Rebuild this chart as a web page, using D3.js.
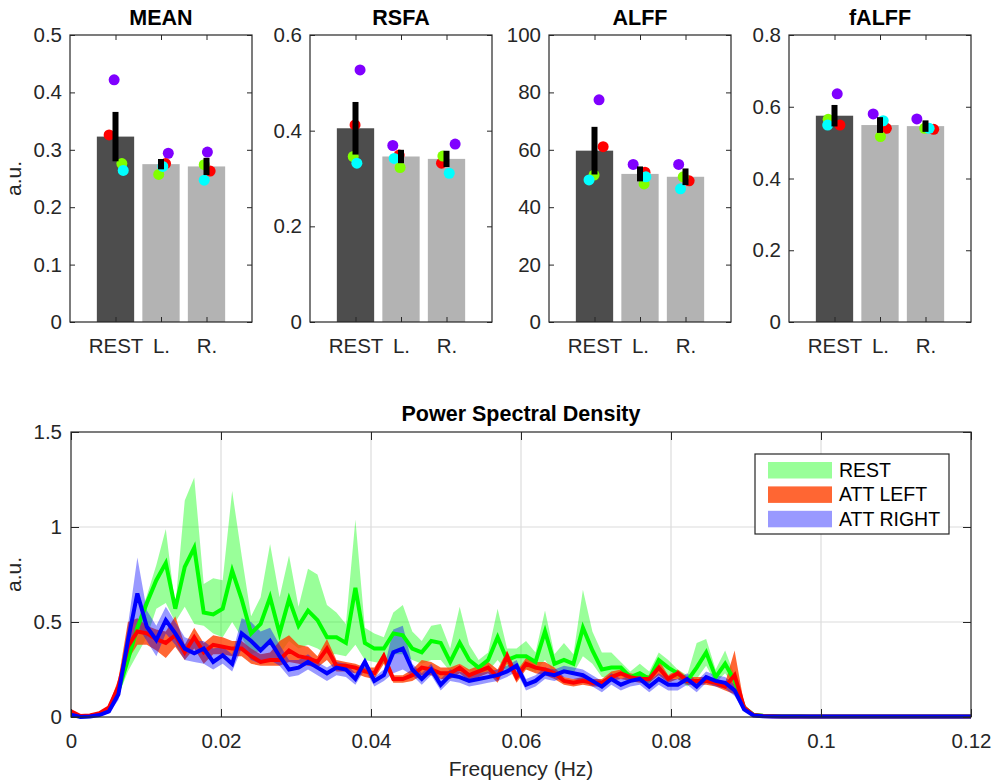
<!DOCTYPE html>
<html>
<head>
<meta charset="utf-8">
<script src="https://cdn.jsdelivr.net/npm/d3@7"></script>
<style>
body { margin: 0; background: #fff; }
text { font-family: Arial, "Liberation Sans", Helvetica, sans-serif; }
</style>
</head>
<body>
<svg width="1000" height="784"></svg>
<script>
// ---- bar panels data ----
var metrics = ["MEAN", "RSFA", "ALFF", "fALFF"];
var conditions = ["REST", "L.", "R."];

var meanBar = [0.323, 0.275, 0.271];
var rsfaBar = [0.405, 0.346, 0.341];
var alffBar = [59.7, 51.6, 50.6];
var falffBar = [0.575, 0.549, 0.546];

var meanSem = [0.043, 0.009, 0.015];
var rsfaSem = [0.055, 0.014, 0.017];
var alffSem = [8.3, 2.6, 2.9];
var falffSem = [0.03, 0.022, 0.016];

// subjects: purple, red, green, cyan
var subjectColors = ["#8000ff", "#ff0000", "#80ff00", "#00ffff"];
var meanDots = [[0.422, 0.326, 0.276, 0.264], [0.294, 0.276, 0.257, 0.271], [0.296, 0.263, 0.274, 0.247]];
var rsfaDots = [[0.527, 0.412, 0.346, 0.332], [0.369, 0.349, 0.323, 0.342], [0.372, 0.332, 0.347, 0.311]];
var alffDots = [[77.4, 61.1, 51.2, 49.5], [54.9, 52.2, 48.1, 50.6], [54.9, 49.2, 50.6, 46.4]];
var falffDots = [[0.636, 0.549, 0.565, 0.549], [0.58, 0.54, 0.517, 0.561], [0.566, 0.537, 0.54, 0.54]];

// horizontal jitter of the dots, in category units
var meanJitter = [[-0.03, -0.14, 0.14, 0.17], [0.16, 0.10, -0.05, 0.04], [0.02, 0.08, -0.05, -0.05]];
var rsfaJitter = [[0.10, -0.01, -0.05, 0.03], [-0.18, -0.04, -0.02, -0.15], [0.19, -0.11, -0.08, 0.06]];
var alffJitter = [[0.10, 0.19, -0.01, -0.12], [-0.15, 0.11, 0.09, 0.13], [-0.15, 0.08, -0.05, -0.11]];
var falffJitter = [[0.06, 0.12, -0.14, -0.15], [-0.15, 0.14, 0.01, 0.07], [-0.19, 0.18, -0.02, 0.08]];

var meanTicks = [0, 0.1, 0.2, 0.3, 0.4, 0.5];
var rsfaTicks = [0, 0.2, 0.4, 0.6];
var alffTicks = [0, 20, 40, 60, 80, 100];
var falffTicks = [0, 0.2, 0.4, 0.6, 0.8];

// ---- power spectral density data ----
var freqStep = 0.001264;
var psdTicks = [0, 0.02, 0.04, 0.06, 0.08, 0.1, 0.12];
var psdYTicks = [0, 0.5, 1, 1.5];

var restMean = [0.015, 0.003, 0.005, 0.015, 0.04, 0.14, 0.30, 0.47, 0.60, 0.72, 0.81, 0.57,
    0.79, 0.89, 0.55, 0.54, 0.57, 0.77, 0.62, 0.44, 0.49, 0.63, 0.44, 0.62,
    0.48, 0.56, 0.51, 0.42, 0.42, 0.39, 0.68, 0.39, 0.36, 0.36, 0.44, 0.43,
    0.36, 0.34, 0.40, 0.39, 0.29, 0.39, 0.30, 0.26, 0.30, 0.42, 0.30, 0.32,
    0.32, 0.29, 0.45, 0.28, 0.30, 0.28, 0.47, 0.35, 0.25, 0.26, 0.26, 0.21,
    0.23, 0.20, 0.30, 0.26, 0.23, 0.19, 0.26, 0.34, 0.21, 0.28, 0.19, 0.05,
    0.012, 0.006, 0.005, 0.004, 0.004, 0.004, 0.003, 0.003, 0.003, 0.003, 0.003, 0.003,
    0.003, 0.003, 0.003, 0.003, 0.003, 0.003, 0.003, 0.003, 0.003, 0.003, 0.003, 0.003];
var restHi = [0.02, 0.006, 0.008, 0.02, 0.05, 0.17, 0.36, 0.50, 0.64, 0.80, 0.99, 0.58,
    1.14, 1.26, 0.70, 0.73, 0.72, 1.19, 0.85, 0.53, 0.63, 0.91, 0.63, 0.85,
    0.58, 0.78, 0.75, 0.59, 0.55, 0.49, 1.04, 0.47, 0.44, 0.42, 0.55, 0.59,
    0.45, 0.40, 0.48, 0.49, 0.36, 0.58, 0.38, 0.30, 0.34, 0.57, 0.36, 0.36,
    0.40, 0.34, 0.56, 0.33, 0.39, 0.33, 0.67, 0.45, 0.34, 0.34, 0.29, 0.24,
    0.28, 0.24, 0.34, 0.30, 0.25, 0.22, 0.39, 0.41, 0.25, 0.35, 0.22, 0.06,
    0.015, 0.008, 0.006, 0.005, 0.005, 0.005, 0.004, 0.004, 0.004, 0.004, 0.004, 0.004,
    0.004, 0.004, 0.004, 0.004, 0.004, 0.004, 0.004, 0.004, 0.004, 0.004, 0.004, 0.004];
var restLo = [0.01, 0.001, 0.003, 0.01, 0.03, 0.11, 0.24, 0.33, 0.42, 0.57, 0.60, 0.50,
    0.58, 0.49, 0.48, 0.44, 0.42, 0.50, 0.42, 0.33, 0.35, 0.38, 0.33, 0.40,
    0.36, 0.38, 0.36, 0.33, 0.33, 0.32, 0.38, 0.30, 0.29, 0.28, 0.33, 0.33,
    0.30, 0.28, 0.30, 0.30, 0.24, 0.28, 0.24, 0.23, 0.24, 0.30, 0.24, 0.25,
    0.25, 0.24, 0.30, 0.23, 0.24, 0.23, 0.32, 0.28, 0.21, 0.21, 0.22, 0.18,
    0.19, 0.17, 0.25, 0.22, 0.20, 0.16, 0.20, 0.27, 0.18, 0.23, 0.16, 0.04,
    0.01, 0.004, 0.003, 0.003, 0.003, 0.003, 0.002, 0.002, 0.002, 0.002, 0.002, 0.002,
    0.002, 0.002, 0.002, 0.002, 0.002, 0.002, 0.002, 0.002, 0.002, 0.002, 0.002, 0.002];

var leftMean = [0.03, 0.005, 0.008, 0.02, 0.05, 0.16, 0.37, 0.45, 0.44, 0.41, 0.39, 0.43,
    0.34, 0.42, 0.34, 0.38, 0.37, 0.36, 0.36, 0.32, 0.29, 0.30, 0.30, 0.35,
    0.32, 0.31, 0.29, 0.36, 0.27, 0.27, 0.26, 0.24, 0.23, 0.32, 0.20, 0.20,
    0.22, 0.26, 0.25, 0.23, 0.23, 0.26, 0.22, 0.24, 0.26, 0.21, 0.32, 0.21,
    0.28, 0.26, 0.25, 0.23, 0.19, 0.18, 0.19, 0.18, 0.18, 0.21, 0.23, 0.21,
    0.20, 0.20, 0.26, 0.20, 0.23, 0.19, 0.19, 0.19, 0.18, 0.16, 0.22, 0.05,
    0.01, 0.005, 0.004, 0.003, 0.003, 0.003, 0.003, 0.003, 0.003, 0.003, 0.003, 0.003,
    0.003, 0.003, 0.003, 0.003, 0.003, 0.003, 0.003, 0.003, 0.003, 0.003, 0.003, 0.003];
var leftHi = [0.035, 0.008, 0.01, 0.025, 0.06, 0.20, 0.50, 0.52, 0.48, 0.46, 0.45, 0.53,
    0.38, 0.47, 0.39, 0.43, 0.42, 0.40, 0.40, 0.36, 0.33, 0.34, 0.40, 0.43,
    0.38, 0.37, 0.32, 0.41, 0.30, 0.29, 0.28, 0.26, 0.26, 0.34, 0.22, 0.22,
    0.25, 0.30, 0.29, 0.26, 0.26, 0.28, 0.25, 0.27, 0.29, 0.25, 0.35, 0.24,
    0.31, 0.29, 0.29, 0.26, 0.21, 0.20, 0.21, 0.20, 0.20, 0.24, 0.25, 0.23,
    0.22, 0.22, 0.30, 0.22, 0.25, 0.21, 0.21, 0.21, 0.20, 0.18, 0.35, 0.07,
    0.012, 0.006, 0.005, 0.004, 0.004, 0.004, 0.004, 0.004, 0.004, 0.004, 0.004, 0.004,
    0.004, 0.004, 0.004, 0.004, 0.004, 0.004, 0.004, 0.004, 0.004, 0.004, 0.004, 0.004];
var leftLo = [0.025, 0.003, 0.006, 0.015, 0.04, 0.13, 0.30, 0.38, 0.38, 0.35, 0.31, 0.37,
    0.30, 0.36, 0.28, 0.33, 0.33, 0.32, 0.32, 0.28, 0.27, 0.27, 0.27, 0.29,
    0.28, 0.27, 0.26, 0.30, 0.24, 0.24, 0.23, 0.21, 0.20, 0.28, 0.18, 0.18,
    0.19, 0.22, 0.22, 0.20, 0.20, 0.23, 0.19, 0.21, 0.23, 0.18, 0.28, 0.18,
    0.25, 0.23, 0.22, 0.20, 0.17, 0.16, 0.17, 0.16, 0.16, 0.19, 0.20, 0.19,
    0.18, 0.18, 0.22, 0.18, 0.20, 0.17, 0.17, 0.17, 0.16, 0.14, 0.12, 0.035,
    0.008, 0.004, 0.003, 0.002, 0.002, 0.002, 0.002, 0.002, 0.002, 0.002, 0.002, 0.002,
    0.002, 0.002, 0.002, 0.002, 0.002, 0.002, 0.002, 0.002, 0.002, 0.002, 0.002, 0.002];

var rightMean = [0.012, 0.0, 0.003, 0.01, 0.03, 0.12, 0.40, 0.65, 0.475, 0.405, 0.51, 0.44,
    0.36, 0.335, 0.36, 0.29, 0.325, 0.28, 0.44, 0.40, 0.35, 0.40, 0.32, 0.25,
    0.26, 0.29, 0.26, 0.23, 0.26, 0.25, 0.20, 0.29, 0.19, 0.22, 0.34, 0.36,
    0.25, 0.20, 0.25, 0.17, 0.22, 0.21, 0.19, 0.20, 0.21, 0.22, 0.24, 0.27,
    0.17, 0.19, 0.23, 0.22, 0.24, 0.23, 0.22, 0.19, 0.16, 0.20, 0.17, 0.19,
    0.20, 0.16, 0.20, 0.17, 0.17, 0.20, 0.16, 0.21, 0.19, 0.18, 0.14, 0.04,
    0.008, 0.004, 0.003, 0.002, 0.002, 0.002, 0.002, 0.002, 0.002, 0.002, 0.002, 0.002,
    0.002, 0.002, 0.002, 0.002, 0.002, 0.002, 0.002, 0.002, 0.002, 0.002, 0.002, 0.002];
var rightHi = [0.018, 0.003, 0.006, 0.015, 0.04, 0.16, 0.48, 0.84, 0.56, 0.48, 0.58, 0.50,
    0.42, 0.40, 0.40, 0.36, 0.37, 0.33, 0.52, 0.50, 0.45, 0.47, 0.38, 0.30,
    0.30, 0.33, 0.29, 0.26, 0.29, 0.28, 0.23, 0.31, 0.21, 0.25, 0.46, 0.48,
    0.28, 0.23, 0.28, 0.20, 0.25, 0.24, 0.22, 0.23, 0.24, 0.25, 0.27, 0.30,
    0.20, 0.22, 0.26, 0.25, 0.27, 0.26, 0.25, 0.22, 0.19, 0.23, 0.20, 0.22,
    0.23, 0.19, 0.23, 0.20, 0.20, 0.23, 0.19, 0.24, 0.22, 0.21, 0.17, 0.05,
    0.01, 0.005, 0.004, 0.003, 0.003, 0.003, 0.003, 0.003, 0.003, 0.003, 0.003, 0.003,
    0.003, 0.003, 0.003, 0.003, 0.003, 0.003, 0.003, 0.003, 0.003, 0.003, 0.003, 0.003];
var rightLo = [0.006, 0.0, 0.001, 0.005, 0.02, 0.09, 0.32, 0.48, 0.40, 0.32, 0.44, 0.38,
    0.30, 0.29, 0.28, 0.25, 0.28, 0.24, 0.36, 0.30, 0.28, 0.30, 0.27, 0.21,
    0.22, 0.25, 0.22, 0.19, 0.22, 0.21, 0.17, 0.25, 0.16, 0.19, 0.23, 0.25,
    0.22, 0.17, 0.22, 0.14, 0.19, 0.18, 0.16, 0.17, 0.18, 0.19, 0.21, 0.24,
    0.14, 0.16, 0.20, 0.19, 0.21, 0.20, 0.19, 0.16, 0.13, 0.17, 0.14, 0.16,
    0.17, 0.13, 0.17, 0.14, 0.14, 0.17, 0.13, 0.18, 0.16, 0.15, 0.11, 0.03,
    0.006, 0.003, 0.002, 0.001, 0.001, 0.001, 0.001, 0.001, 0.001, 0.001, 0.001, 0.001,
    0.001, 0.001, 0.001, 0.001, 0.001, 0.001, 0.001, 0.001, 0.001, 0.001, 0.001, 0.001];

var legendLabels = ["REST", "ATT LEFT", "ATT RIGHT"];

// ---- drawing ----
var svg = d3.select("svg");
var ink = "#262626";
var fontFamily = "Arial, 'Liberation Sans', Helvetica, sans-serif";
var tickFont = 20.5;

var barVals = [meanBar, rsfaBar, alffBar, falffBar];
var semVals = [meanSem, rsfaSem, alffSem, falffSem];
var dotVals = [meanDots, rsfaDots, alffDots, falffDots];
var jitterVals = [meanJitter, rsfaJitter, alffJitter, falffJitter];
var tickVals = [meanTicks, rsfaTicks, alffTicks, falffTicks];

var panelLeft = [70, 310, 549, 789];
var panelW = 182, panelTop = 35, panelBottom = 322;

function styleAxis(sel, size) {
    sel.attr("color", ink)
        .attr("font-size", size)
        .attr("font-family", fontFamily);
    sel.select(".domain").remove();
}

metrics.forEach(function(name, k) {
    var left = panelLeft[k];
    var ticks = tickVals[k];
    var x = d3.scaleLinear().domain([0, 4]).range([left, left + panelW]);
    var y = d3.scaleLinear().domain([0, ticks[ticks.length - 1]]).range([panelBottom, panelTop]);
    var g = svg.append("g");

    g.selectAll(".bar")
        .data(barVals[k])
        .enter().append("rect")
        .attr("class", "bar")
        .attr("x", function(d, i) { return x(i + 1 - 0.41); })
        .attr("width", x(0.82) - x(0))
        .attr("y", function(d) { return y(d); })
        .attr("height", function(d) { return y(0) - y(d); })
        .attr("fill", function(d, i) { return i === 0 ? "#4d4d4d" : "#b3b3b3"; });

    // subject dots
    dotVals[k].forEach(function(vals, i) {
        g.selectAll(null)
            .data(vals)
            .enter().append("circle")
            .attr("cx", function(d, j) { return x(i + 1 + jitterVals[k][i][j]); })
            .attr("cy", function(d) { return y(d); })
            .attr("r", 5.5)
            .attr("fill", function(d, j) { return subjectColors[j]; });
    });

    // error bars
    g.selectAll(".err")
        .data(barVals[k])
        .enter().append("line")
        .attr("class", "err")
        .attr("x1", function(d, i) { return x(i + 1); })
        .attr("x2", function(d, i) { return x(i + 1); })
        .attr("y1", function(d, i) { return y(d - semVals[k][i]); })
        .attr("y2", function(d, i) { return y(d + semVals[k][i]); })
        .attr("stroke", "#000")
        .attr("stroke-width", 6);

    var fmt = d3.format("~g");
    g.append("g")
        .attr("transform", "translate(0," + panelBottom + ")")
        .call(d3.axisBottom(x).tickValues([1, 2, 3])
            .tickFormat(function(d) { return conditions[d - 1]; })
            .tickSizeInner(-5).tickSizeOuter(0).tickPadding(16))
        .call(styleAxis, tickFont);
    g.append("g")
        .attr("transform", "translate(0," + panelTop + ")")
        .call(d3.axisTop(x).tickValues([1, 2, 3]).tickFormat("").tickSizeInner(-5).tickSizeOuter(0))
        .call(styleAxis, tickFont);
    g.append("g")
        .attr("transform", "translate(" + left + ",0)")
        .call(d3.axisLeft(y).tickValues(ticks).tickFormat(fmt).tickSizeInner(-5).tickSizeOuter(0).tickPadding(8))
        .call(styleAxis, tickFont);
    g.append("g")
        .attr("transform", "translate(" + (left + panelW) + ",0)")
        .call(d3.axisRight(y).tickValues(ticks).tickFormat("").tickSizeInner(-5).tickSizeOuter(0))
        .call(styleAxis, tickFont);

    g.append("rect")
        .attr("x", left).attr("y", panelTop)
        .attr("width", panelW).attr("height", panelBottom - panelTop)
        .attr("fill", "none").attr("stroke", ink).attr("stroke-width", 1.2);

    g.append("text")
        .attr("x", left + panelW / 2).attr("y", 25)
        .attr("text-anchor", "middle")
        .attr("font-size", 21.5).attr("font-weight", "bold")
        .attr("fill", "#000")
        .text(name);
});

svg.append("text")
    .attr("transform", "translate(21," + (panelTop + panelBottom) / 2 + ") rotate(-90)")
    .attr("text-anchor", "middle")
    .attr("font-size", 21).attr("fill", ink)
    .text("a.u.");

// ---- PSD panel ----
var pLeft = 71, pRight = 971, pTop = 432, pBottom = 717;
var fx = d3.scaleLinear().domain([0, 0.12]).range([pLeft, pRight]);
var fy = d3.scaleLinear().domain([0, 1.5]).range([pBottom, pTop]);
var freqs = restMean.map(function(d, i) { return i * freqStep; });

var p = svg.append("g");

p.append("clipPath").attr("id", "psdClip")
    .append("rect")
    .attr("x", pLeft).attr("y", pTop - 5)
    .attr("width", pRight - pLeft).attr("height", pBottom - pTop + 10);

// grid
p.selectAll(".vgrid")
    .data(psdTicks.slice(1, -1))
    .enter().append("line")
    .attr("x1", function(d) { return fx(d); }).attr("x2", function(d) { return fx(d); })
    .attr("y1", pTop).attr("y2", pBottom)
    .attr("stroke", "#dcdcdc").attr("stroke-width", 1.2);
p.selectAll(".hgrid")
    .data(psdYTicks.slice(1, -1))
    .enter().append("line")
    .attr("x1", pLeft).attr("x2", pRight)
    .attr("y1", function(d) { return fy(d); }).attr("y2", function(d) { return fy(d); })
    .attr("stroke", "#dcdcdc").attr("stroke-width", 1.2);

var series = [
    { mean: restMean, lo: restLo, hi: restHi, line: "#00ff00", fill: "#00ff00", alpha: 0.4 },
    { mean: leftMean, lo: leftLo, hi: leftHi, line: "#ff0000", fill: "#ff4000", alpha: 0.8 },
    { mean: rightMean, lo: rightLo, hi: rightHi, line: "#0000ff", fill: "#0000ff", alpha: 0.4 }
];

var plot = p.append("g").attr("clip-path", "url(#psdClip)");

series.forEach(function(s) {
    var area = d3.area()
        .x(function(d, i) { return fx(freqs[i]); })
        .y0(function(d, i) { return fy(s.lo[i]); })
        .y1(function(d, i) { return fy(s.hi[i]); });
    plot.append("path")
        .datum(s.mean)
        .attr("d", area)
        .attr("fill", s.fill)
        .attr("fill-opacity", s.alpha);
});

series.forEach(function(s) {
    var line = d3.line()
        .x(function(d, i) { return fx(freqs[i]); })
        .y(function(d) { return fy(d); });
    plot.append("path")
        .datum(s.mean)
        .attr("d", line)
        .attr("fill", "none")
        .attr("stroke", s.line)
        .attr("stroke-width", 4)
        .attr("stroke-linejoin", "miter");
});

var fmt2 = d3.format("~g");
p.append("g")
    .attr("transform", "translate(0," + pBottom + ")")
    .call(d3.axisBottom(fx).tickValues(psdTicks).tickFormat(fmt2).tickSizeInner(-8).tickSizeOuter(0).tickPadding(16))
    .call(styleAxis, tickFont);
p.append("g")
    .attr("transform", "translate(0," + pTop + ")")
    .call(d3.axisTop(fx).tickValues(psdTicks).tickFormat("").tickSizeInner(-8).tickSizeOuter(0))
    .call(styleAxis, tickFont);
p.append("g")
    .attr("transform", "translate(" + pLeft + ",0)")
    .call(d3.axisLeft(fy).tickValues(psdYTicks).tickFormat(fmt2).tickSizeInner(-8).tickSizeOuter(0).tickPadding(9))
    .call(styleAxis, tickFont);
p.append("g")
    .attr("transform", "translate(" + pRight + ",0)")
    .call(d3.axisRight(fy).tickValues(psdYTicks).tickFormat("").tickSizeInner(-8).tickSizeOuter(0))
    .call(styleAxis, tickFont);

p.append("rect")
    .attr("x", pLeft).attr("y", pTop)
    .attr("width", pRight - pLeft).attr("height", pBottom - pTop)
    .attr("fill", "none").attr("stroke", ink).attr("stroke-width", 1.2);

p.append("text")
    .attr("x", (pLeft + pRight) / 2).attr("y", 421)
    .attr("text-anchor", "middle")
    .attr("font-size", 21.5).attr("font-weight", "bold").attr("fill", "#000")
    .text("Power Spectral Density");

p.append("text")
    .attr("x", (pLeft + pRight) / 2).attr("y", 776)
    .attr("text-anchor", "middle")
    .attr("font-size", 21).attr("fill", ink)
    .text("Frequency (Hz)");

p.append("text")
    .attr("transform", "translate(21," + (pTop + pBottom) / 2 + ") rotate(-90)")
    .attr("text-anchor", "middle")
    .attr("font-size", 21).attr("fill", ink)
    .text("a.u.");

// legend
var lg = p.append("g").attr("transform", "translate(755,454)");
lg.append("rect")
    .attr("width", 194).attr("height", 80)
    .attr("fill", "#fff").attr("stroke", ink).attr("stroke-width", 1.2);
var items = lg.selectAll(".item")
    .data(series)
    .enter().append("g")
    .attr("transform", function(d, i) { return "translate(0," + (i * 24.4) + ")"; });
items.append("rect")
    .attr("x", 13).attr("y", 8)
    .attr("width", 64).attr("height", 16.5)
    .attr("fill", function(d) { return d.fill; })
    .attr("fill-opacity", function(d) { return d.alpha; });
items.append("text")
    .attr("x", 84).attr("y", 23)
    .attr("font-size", 19.5).attr("fill", "#000")
    .text(function(d, i) { return legendLabels[i]; });
</script>
</body>
</html>
